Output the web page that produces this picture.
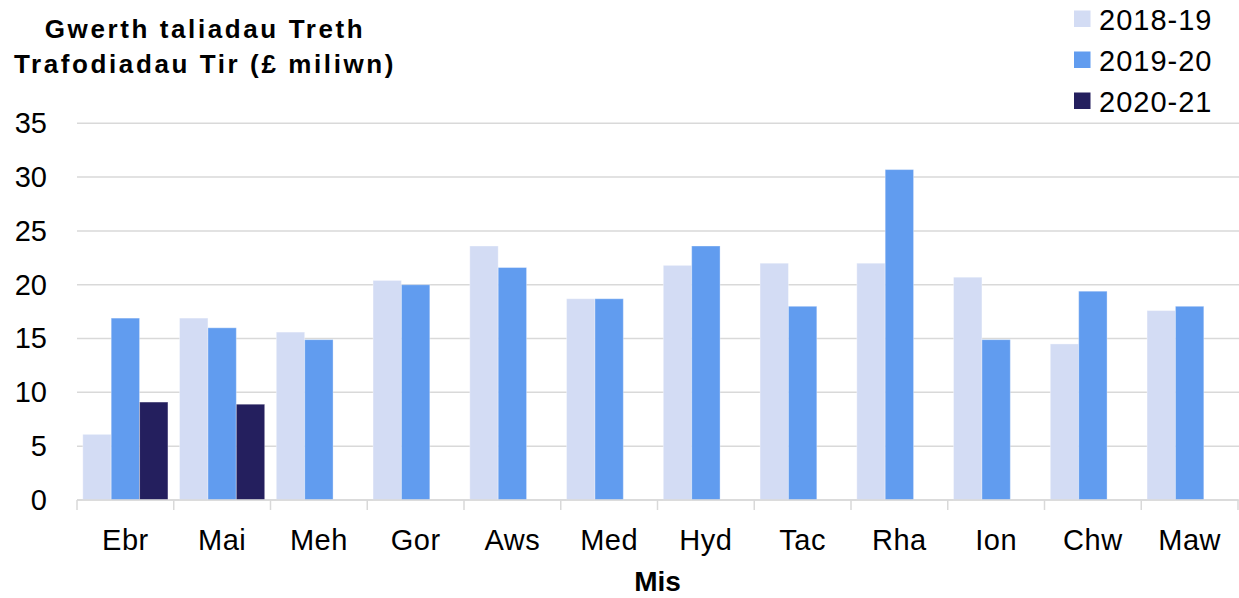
<!DOCTYPE html>
<html>
<head>
<meta charset="utf-8">
<script src="https://cdn.jsdelivr.net/npm/d3@7"></script>
<style>
	body { margin: 0; background: #fff; }
	svg { display: block; font-family: "Liberation Sans", Arial, sans-serif; }
</style>
</head>
<body>
<div id="chart"></div>
<script>
// Month labels (Welsh)
const months = ["Ebr", "Mai", "Meh", "Gor", "Aws", "Med", "Hyd", "Tac", "Rha", "Ion", "Chw", "Maw"]
const years = ["2018-19", "2019-20", "2020-21"]

// £ million
const values1819 = [6.1, 16.9, 15.6, 20.4, 23.6, 18.7, 21.8, 22.0, 22.0, 20.7, 14.5, 17.6]
const values1920 = [16.9, 16.0, 14.9, 20.0, 21.6, 18.7, 23.6, 18.0, 30.7, 14.9, 19.4, 18.0]
const values2021 = [9.1, 8.9, null, null, null, null, null, null, null, null, null, null]

const yTicks = [0, 5, 10, 15, 20, 25, 30, 35]
const colors = ["#d3dcf4", "#619cef", "#241f5e"]

class BarVis {
	constructor(parentElement) {
		this.parentElement = parentElement
		this.series = [values1819, values1920, values2021]
		this.initVis()
	}

	initVis() {
		let vis = this

		vis.width = 1239
		vis.height = 598
		vis.plot = { left: 77, right: 1238, top: 123.3, bottom: 500 }

		vis.svg = d3
			.select("#" + vis.parentElement)
			.append("svg")
			.attr("width", vis.width)
			.attr("height", vis.height)

		// Scales
		vis.x0 = d3
			.scaleBand()
			.domain(months)
			.range([vis.plot.left, vis.plot.right])
			.paddingInner(0.12)
			.paddingOuter(0.06)

		vis.x1 = d3
			.scaleBand()
			.domain(years)
			.range([0, vis.x0.bandwidth()])

		vis.y = d3
			.scaleLinear()
			.domain([0, 35])
			.range([vis.plot.bottom, vis.plot.top])

		// Gridlines
		vis.svg
			.append("g")
			.attr("class", "grid")
			.selectAll("line")
			.data(yTicks)
			.enter()
			.append("line")
			.attr("x1", vis.plot.left)
			.attr("x2", vis.width)
			.attr("y1", (d) => vis.y(d))
			.attr("y2", (d) => vis.y(d))
			.attr("stroke", "#d9d9d9")
			.attr("stroke-width", 1.5)

		// Y axis labels
		let yAxis = d3
			.axisLeft(vis.y)
			.tickValues(yTicks)
			.tickSize(0)
			.tickPadding(0)

		vis.svg
			.append("g")
			.attr("transform", "translate(47,0)")
			.call(yAxis)
			.call((g) => g.select(".domain").remove())
			.selectAll("text")
			.attr("font-family", "Liberation Sans, Arial, sans-serif")
			.attr("font-size", "29px")
			.attr("fill", "#000")

		// Bars
		let rows = months.map((m, i) => ({
			month: m,
			vals: years.map((yr, j) => ({ year: yr, value: vis.series[j][i], idx: j })),
		}))

		vis.svg
			.append("g")
			.attr("class", "bars")
			.selectAll("g")
			.data(rows)
			.enter()
			.append("g")
			.attr("transform", (d) => `translate(${vis.x0(d.month)},0)`)
			.selectAll("rect")
			.data((d) => d.vals.filter((v) => v.value != null))
			.enter()
			.append("rect")
			.attr("x", (d) => vis.x1(d.year))
			.attr("width", vis.x1.bandwidth())
			.attr("y", (d) => vis.y(d.value))
			.attr("height", (d) => vis.y(0) - vis.y(d.value))
			.attr("fill", (d) => colors[d.idx])
			.attr("stroke", "#fff")
			.attr("stroke-opacity", 0.35)
			.attr("stroke-width", 1)

		// Baseline and category tick marks
		let step = vis.x0.step()
		let bounds = months.map((m) => vis.x0(m) - (step * vis.x0.paddingInner()) / 2)
		bounds.push(vis.plot.right)

		vis.svg
			.append("line")
			.attr("x1", vis.plot.left)
			.attr("x2", vis.plot.right)
			.attr("y1", vis.plot.bottom)
			.attr("y2", vis.plot.bottom)
			.attr("stroke", "#d9d9d9")
			.attr("stroke-width", 1.5)

		vis.svg
			.append("g")
			.selectAll("line")
			.data(bounds)
			.enter()
			.append("line")
			.attr("x1", (d) => d)
			.attr("x2", (d) => d)
			.attr("y1", vis.plot.bottom)
			.attr("y2", vis.plot.bottom + 10)
			.attr("stroke", "#d9d9d9")
			.attr("stroke-width", 1.5)

		// X labels
		vis.svg
			.append("g")
			.selectAll("text")
			.data(months)
			.enter()
			.append("text")
			.attr("x", (d) => vis.x0(d) + vis.x0.bandwidth() / 2)
			.attr("y", 550)
			.attr("text-anchor", "middle")
			.attr("font-size", "29px")
			.attr("letter-spacing", "0.5px")
			.text((d) => d)

		// Axis title
		vis.svg
			.append("text")
			.attr("x", (vis.plot.left + vis.plot.right) / 2)
			.attr("y", 591)
			.attr("text-anchor", "middle")
			.attr("font-size", "28px")
			.attr("font-weight", "bold")
			.text("Mis")

		// Chart title, two lines
		let title = vis.svg
			.append("text")
			.attr("text-anchor", "middle")
			.attr("font-size", "26px")
			.attr("font-weight", "bold")
			.attr("letter-spacing", "2.6px")
		title.append("tspan").attr("x", 205).attr("y", 38).text("Gwerth taliadau Treth")
		title.append("tspan").attr("x", 205).attr("y", 73).text("Trafodiadau Tir (£ miliwn)")

		// Legend
		let legend = vis.svg
			.append("g")
			.selectAll("g")
			.data(years)
			.enter()
			.append("g")
			.attr("transform", (d, i) => `translate(1074,${29.5 + i * 41})`)

		legend
			.append("rect")
			.attr("x", 0)
			.attr("y", -19)
			.attr("width", 16.5)
			.attr("height", 16.5)
			.attr("fill", (d, i) => colors[i])

		legend
			.append("text")
			.attr("x", 25)
			.attr("y", 0)
			.attr("font-size", "29px")
			.attr("letter-spacing", "1px")
			.text((d) => d)
	}
}

new BarVis("chart")
</script>
</body>
</html>
